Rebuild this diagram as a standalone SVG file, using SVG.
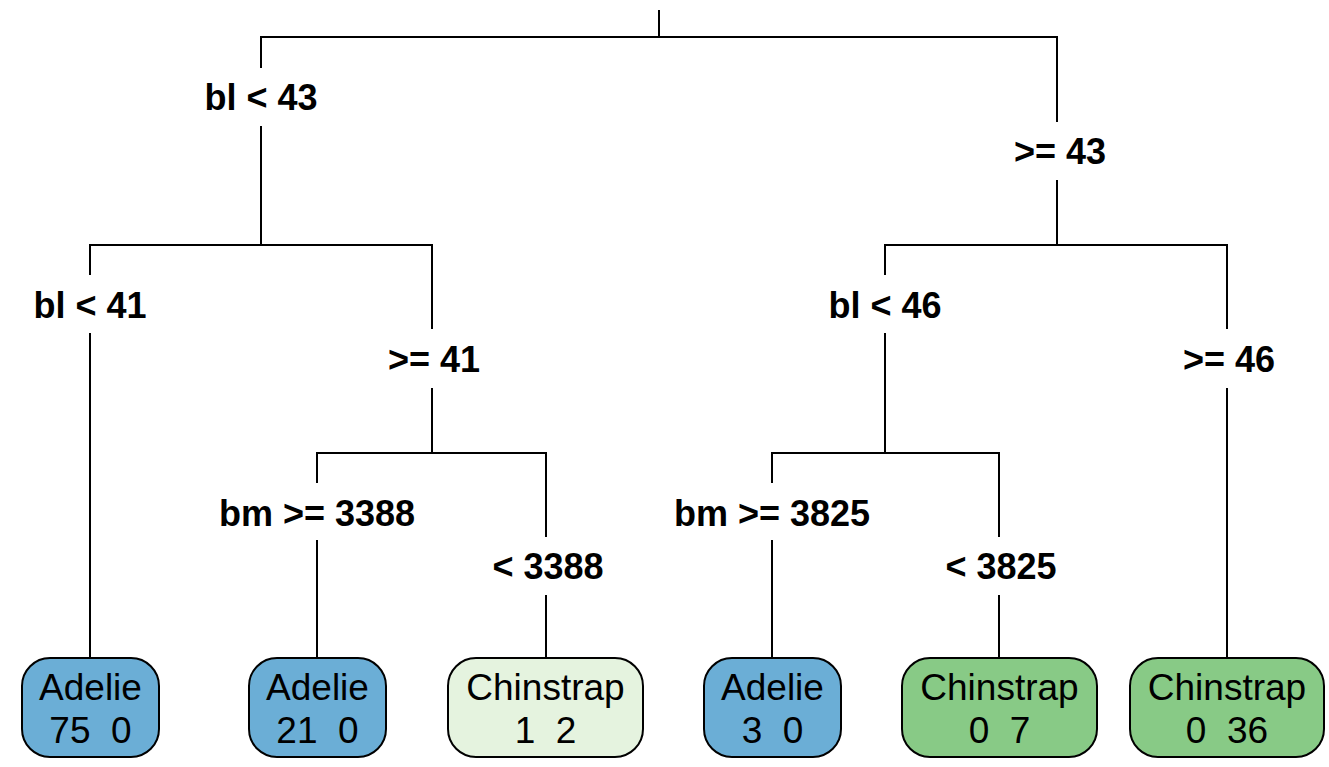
<svg xmlns="http://www.w3.org/2000/svg" width="1329" height="767" viewBox="0 0 1329 767">
<style>
.edge{fill:none;stroke:#000;stroke-width:2}
.lbl{font-family:"Liberation Sans",Arial,sans-serif;font-weight:bold;font-size:36px;text-anchor:middle;fill:#000}
.leaf rect{stroke:#000;stroke-width:2}
.leaf text{font-family:"Liberation Sans",Arial,sans-serif;font-size:37px;text-anchor:middle;fill:#000;white-space:pre}
.adelie{fill:#6BAED6}
.chin{fill:#88CA86}
.chinl{fill:#E5F3DF}
</style>
<rect width="1329" height="767" fill="#fff"/>
<g id="connectors">
<path class="edge" d="M659 10 V37"/>
<path class="edge" d="M261 68 V37 H1057 V122"/>
<path class="edge" d="M261 126 V245"/>
<path class="edge" d="M90 275 V245 H432 V329"/>
<path class="edge" d="M90 333 V658"/>
<path class="edge" d="M432 388 V453"/>
<path class="edge" d="M317 483 V453 H546 V537"/>
<path class="edge" d="M317 540 V658"/>
<path class="edge" d="M546 595 V658"/>
<path class="edge" d="M1057 180 V245"/>
<path class="edge" d="M885 275 V245 H1227 V329"/>
<path class="edge" d="M885 333 V453"/>
<path class="edge" d="M772 483 V453 H999 V537"/>
<path class="edge" d="M772 540 V658"/>
<path class="edge" d="M999 595 V658"/>
<path class="edge" d="M1227 388 V658"/>
</g>
<g id="labels">
<text class="lbl" x="261" y="110">bl &lt; 43</text>
<text class="lbl" x="1060" y="164">&gt;= 43</text>
<text class="lbl" x="90" y="318">bl &lt; 41</text>
<text class="lbl" x="434" y="372">&gt;= 41</text>
<text class="lbl" x="885" y="318">bl &lt; 46</text>
<text class="lbl" x="1229" y="372">&gt;= 46</text>
<text class="lbl" x="317" y="526">bm &gt;= 3388</text>
<text class="lbl" x="548" y="579">&lt; 3388</text>
<text class="lbl" x="772" y="526">bm &gt;= 3825</text>
<text class="lbl" x="1001" y="579">&lt; 3825</text>
</g>
<g id="leaf1" class="leaf">
<rect class="adelie" x="22" y="658" width="137" height="99" rx="28"/>
<text x="90.5" y="700">Adelie</text>
<text x="90.5" y="743">75  0</text>
</g>
<g id="leaf2" class="leaf">
<rect class="adelie" x="249" y="658" width="137" height="99" rx="28"/>
<text x="317.5" y="700">Adelie</text>
<text x="317.5" y="743">21  0</text>
</g>
<g id="leaf3" class="leaf">
<rect class="chinl" x="448" y="658" width="195" height="99" rx="28"/>
<text x="545.5" y="700">Chinstrap</text>
<text x="545.5" y="743">1  2</text>
</g>
<g id="leaf4" class="leaf">
<rect class="adelie" x="704" y="658" width="137" height="99" rx="28"/>
<text x="772.5" y="700">Adelie</text>
<text x="772.5" y="743">3  0</text>
</g>
<g id="leaf5" class="leaf">
<rect class="chin" x="902" y="658" width="195" height="99" rx="28"/>
<text x="999.5" y="700">Chinstrap</text>
<text x="999.5" y="743">0  7</text>
</g>
<g id="leaf6" class="leaf">
<rect class="chin" x="1130" y="658" width="194" height="99" rx="28"/>
<text x="1227" y="700">Chinstrap</text>
<text x="1227" y="743">0  36</text>
</g>
</svg>
